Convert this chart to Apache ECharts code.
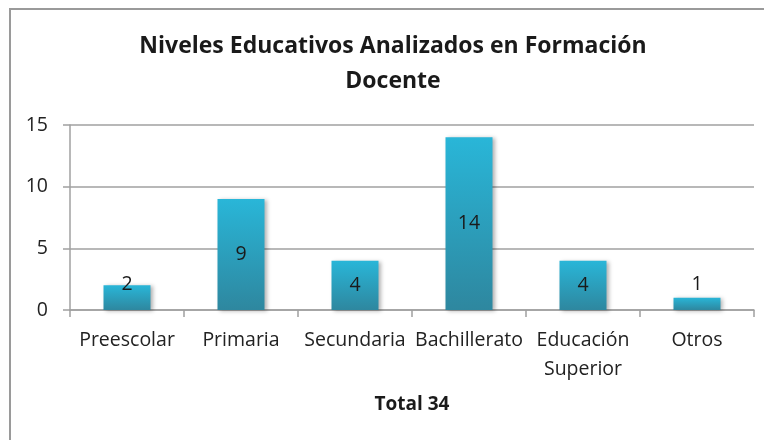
<!DOCTYPE html>
<html>
<head>
<meta charset="utf-8">
<script src="https://cdn.jsdelivr.net/npm/echarts@6/dist/echarts.min.js"></script>
<style>
  html, body { margin: 0; padding: 0; background: #fff; overflow: hidden; }
  #frame {
    position: absolute; left: 9px; top: 8px; width: 800px; height: 500px;
    border-top: 2px solid #9a9a9a; border-left: 2px solid #9a9a9a;
  }
  #chart { position: absolute; left: 0; top: 0; width: 764px; height: 440px; }
</style>
</head>
<body>
<div id="frame"></div>
<div id="chart"></div>
<script>
// datos
const categorias = ["Preescolar", "Primaria", "Secundaria", "Bachillerato", "Educación Superior", "Otros"];
const valores = [2, 9, 4, 14, 4, 1];
const titulo = "Niveles Educativos Analizados en Formación\nDocente";
const subtitulo = "Total 34";

const chart = echarts.init(document.getElementById("chart"));

const fuente = "'Open Sans', sans-serif";

const datos = valores.map(v => {
  const item = { value: v };
  // etiquetas de barras pequeñas quedan sobre el borde superior
  if (v < 3) {
    item.label = { position: "top", distance: v === 1 ? 3 : -9 };
  }
  return item;
});

const option = {
  animation: false,
  title: [
    {
      text: titulo,
      left: 393, top: 29, textAlign: "center", padding: 0,
      textStyle: { fontFamily: fuente, fontSize: 23, fontWeight: "bold", color: "#1a1a1a", lineHeight: 35 }
    },
    {
      text: subtitulo,
      left: 412, top: 393, textAlign: "center", padding: 0,
      textStyle: { fontFamily: fuente, fontSize: 19, fontWeight: "bold", color: "#1a1a1a", lineHeight: 24 }
    }
  ],
  grid: { left: 70, right: 10, top: 125, bottom: 130 },
  xAxis: {
    type: "category",
    data: categorias,
    axisLine: { lineStyle: { color: "#a0a0a0", width: 1.5 } },
    axisTick: { show: true, length: 7, lineStyle: { color: "#a0a0a0", width: 1.5 } },
    axisLabel: {
      interval: 0, margin: 16, color: "#222", fontFamily: fuente, fontSize: 19.5, lineHeight: 29,
      formatter: s => s.replace(" ", "\n")
    }
  },
  yAxis: {
    type: "value",
    min: 0, max: 15, interval: 5,
    axisLine: { show: true, lineStyle: { color: "#a0a0a0", width: 1.5 } },
    axisTick: { show: true, length: 7, lineStyle: { color: "#a0a0a0", width: 1.5 } },
    splitLine: { lineStyle: { color: "#a0a0a0", width: 1.5 } },
    axisLabel: { margin: 22, color: "#222", fontFamily: fuente, fontSize: 19.5 }
  },
  series: [
    {
      type: "bar",
      data: datos,
      barWidth: 47,
      itemStyle: {
        color: new echarts.graphic.LinearGradient(0, 0, 0, 1, [
          { offset: 0, color: "#29b6d8" },
          { offset: 1, color: "#2e879f" }
        ]),
        shadowColor: "rgba(0,0,0,0.3)", shadowBlur: 4, shadowOffsetX: 2, shadowOffsetY: 1
      },
      label: {
        show: true, position: "inside", color: "#1a1a1a", fontFamily: fuente, fontSize: 19.5
      }
    }
  ]
};

chart.setOption(option);
</script>
</body>
</html>
